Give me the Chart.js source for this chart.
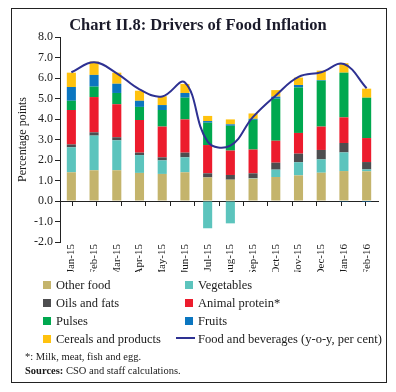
<!DOCTYPE html>
<html>
<head>
<meta charset="utf-8">
<script src="https://cdn.jsdelivr.net/npm/chart.js@4.4.0/dist/chart.umd.min.js"></script>
<style>
  body { margin: 0; width: 396px; height: 392px; background: #fff; position: relative; overflow: hidden; font-family: "Liberation Serif", serif; color: #1a1a1a; }
  #frame { position: absolute; left: 11px; top: 8px; width: 374px; height: 373px; border: 1.5px solid #222; }
  #title { position: absolute; left: 0; width: 396px; top: 15px; text-align: center; font-weight: bold; font-size: 16.5px; color: #1a1a2a; }
  #wrap { position: absolute; left: 0; top: 0; width: 396px; height: 286px; }
  .item { position: absolute; font-size: 12.5px; line-height: 16px; white-space: nowrap; }
  .sw { display: inline-block; width: 8px; height: 8px; margin-right: 5px; vertical-align: 0px; }
  .ln { display: inline-block; width: 19px; height: 2px; margin-right: 3px; vertical-align: 4px; }
  .note { position: absolute; left: 25px; font-size: 10.5px; white-space: nowrap; }
</style>
</head>
<body>
<div id="frame"></div>
<div id="wrap"><canvas id="foodChart"></canvas></div>
<div id="title">Chart II.8: Drivers of Food Inflation</div>
<div id="legend"></div>
<div class="note" style="top:351px">*: Milk, meat, fish and egg.</div>
<div class="note" style="top:365px"><b>Sources:</b> CSO and staff calculations.</div>
<script>
(function() {
  const months = ['Jan-15', 'Feb-15', 'Mar-15', 'Apr-15', 'May-15', 'Jun-15', 'Jul-15', 'Aug-15', 'Sep-15', 'Oct-15', 'Nov-15', 'Dec-15', 'Jan-16', 'Feb-16'];
  const otherFood     = [1.40, 1.50, 1.50, 1.37, 1.32, 1.40, 1.15, 1.04, 1.09, 1.17, 1.25, 1.38, 1.46, 1.45];
  const vegetables    = [1.22, 1.69, 1.46, 0.87, 0.66, 0.73, -1.33, -1.09, 0.02, 0.36, 0.64, 0.65, 0.91, 0.09];
  const oilsFats      = [0.14, 0.16, 0.15, 0.12, 0.15, 0.23, 0.20, 0.23, 0.24, 0.34, 0.42, 0.46, 0.46, 0.36];
  const animalProtein = [1.68, 1.72, 1.61, 1.59, 1.50, 1.62, 1.38, 1.19, 1.16, 1.07, 1.01, 1.14, 1.25, 1.17];
  const pulses        = [0.45, 0.51, 0.55, 0.64, 0.81, 1.06, 1.09, 1.21, 1.45, 2.05, 2.22, 2.24, 2.18, 1.97];
  const fruits        = [0.67, 0.57, 0.45, 0.30, 0.24, 0.23, 0.08, 0.07, 0.05, 0.10, 0.12, 0.03, -0.04, -0.05];
  const cereals       = [0.70, 0.65, 0.54, 0.49, 0.43, 0.44, 0.25, 0.24, 0.26, 0.32, 0.36, 0.46, 0.46, 0.44];
  const foodBev       = [6.28, 6.77, 6.23, 5.45, 5.10, 5.78, 2.90, 2.70, 4.10, 5.15, 6.05, 6.28, 6.68, 5.50];

  const serif = '"Liberation Serif", serif';

  function barSet(label, data, color) {
    return { type: 'bar', label: label, data: data, backgroundColor: color, borderWidth: 0, stack: 's', order: 1, barPercentage: 0.8, categoryPercentage: 0.5 };
  }

  const datasets = [
    barSet('Other food', otherFood, '#c4b46c'),
    barSet('Vegetables', vegetables, '#5cc4bd'),
    barSet('Oils and fats', oilsFats, '#4d4d4f'),
    barSet('Animal protein*', animalProtein, '#ec1c2d'),
    barSet('Pulses', pulses, '#00a84f'),
    barSet('Fruits', fruits, '#0b76c0'),
    barSet('Cereals and products', cereals, '#ffc20e'),
    { type: 'line', label: 'Food and beverages (y-o-y, per cent)', data: foodBev, borderColor: '#2e3192', borderWidth: 2, pointRadius: 0, tension: 0.4, fill: false, order: 0 }
  ];

  // Legend in two columns, like the original
  const legend = document.getElementById('legend');
  datasets.forEach(function(ds, k) {
    const col = k % 2, row = Math.floor(k / 2);
    const div = document.createElement('div');
    div.className = 'item';
    div.style.left = (col ? 185 : 43) + 'px';
    div.style.top = (277 + row * 18) + 'px';
    if (ds.type === 'line') {
      div.style.left = '176px';
      div.innerHTML = '<span class="ln" style="background:' + ds.borderColor + '"></span>' + ds.label;
    } else {
      div.innerHTML = '<span class="sw" style="background:' + ds.backgroundColor + '"></span>' + ds.label;
    }
    legend.appendChild(div);
  });

  new Chart(document.getElementById('foodChart').getContext('2d'), {
    data: { labels: months, datasets: datasets },
    options: {
      responsive: true,
      maintainAspectRatio: false,
      animation: false,
      layout: { padding: { top: 37, left: 16, right: 18, bottom: 14 } },
      plugins: { legend: { display: false }, tooltip: { enabled: false } },
      scales: {
        x: {
          stacked: true,
          position: 'bottom',
          border: { display: false },
          grid: { display: false, drawTicks: false },
          ticks: { color: '#1a1a1a', font: { family: serif, size: 11 }, minRotation: 90, maxRotation: 90, autoSkip: false, padding: 2 },
          afterFit: function(s) { s.height = 30; }
        },
        x0: {
          type: 'category',
          position: { y: 0 },
          border: { color: '#222', width: 1 },
          grid: { offset: true, drawOnChartArea: false, tickLength: 4, color: '#222' },
          ticks: { callback: function() { return ''; } }
        },
        y: {
          stacked: true,
          min: -2, max: 8,
          border: { color: '#222', width: 1 },
          grid: { drawOnChartArea: false, tickLength: 5, color: '#222' },
          ticks: { stepSize: 1, color: '#1a1a1a', font: { family: serif, size: 12 }, padding: 2, callback: function(v) { return v.toFixed(1); } },
          title: { display: true, text: 'Percentage points', color: '#1a1a1a', font: { family: serif, size: 12 }, padding: 0 },
          afterFit: function(s) { s.width = 44; }
        }
      }
    }
  });
})();
</script>
</body>
</html>
